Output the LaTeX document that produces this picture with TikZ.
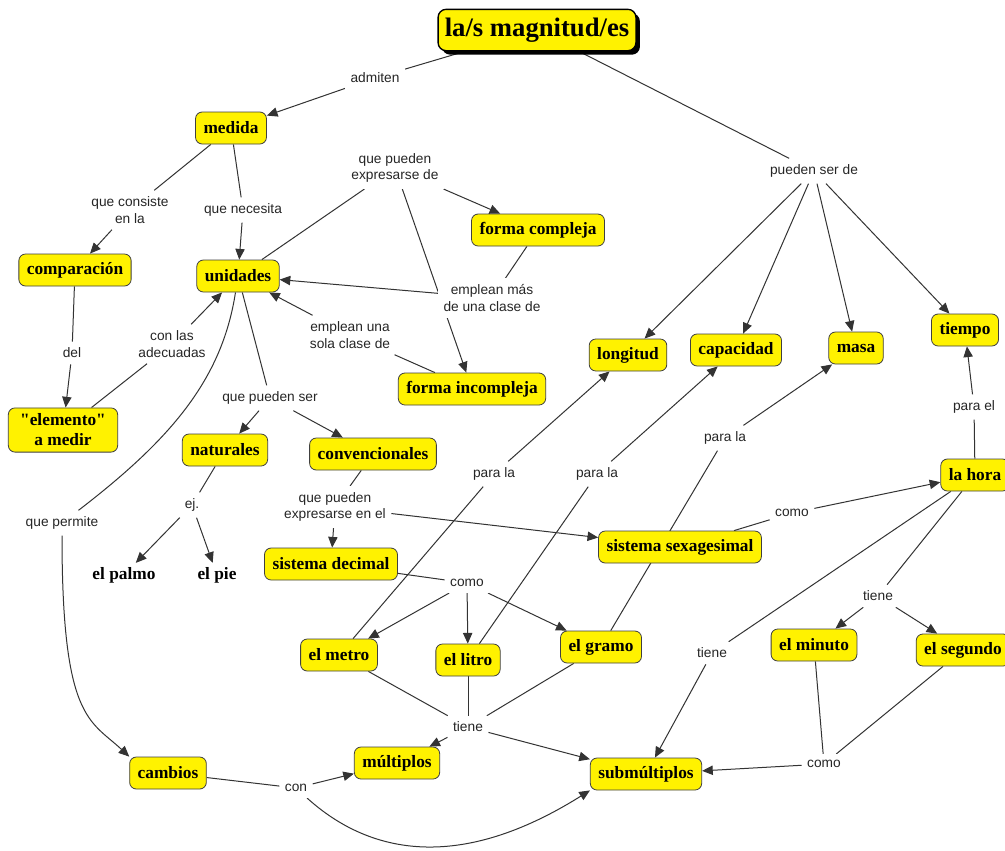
\documentclass[tikz,border=0pt]{standalone}
\usepackage{fontspec}
\setmainfont{Liberation Serif}[Ligatures=TeXOff]
\newfontfamily\lsans{Liberation Sans}
\usetikzlibrary{arrows.meta,shadows}
\pgfdeclarelayer{bg}
\pgfsetlayers{bg,main}
\begin{document}
\begin{tikzpicture}[x=0.75pt,y=-0.75pt,
  concept/.style={draw=black!75, line width=0.6pt, fill=yellow, rounded corners=5pt,
    font=\bfseries\fontsize{13}{15}\selectfont, inner xsep=6pt, inner ysep=3pt,
    minimum height=24pt, align=center},
  lbl/.style={fill=white, inner xsep=4pt, inner ysep=4.5pt,
    font=\lsans\fontsize{10.3}{12.6}\selectfont, text=black!85, align=center},
  plainc/.style={font=\bfseries\fontsize{13}{15}\selectfont, inner sep=3pt},
  conn/.style={draw=black!80, line width=0.75pt},
  arr/.style={conn, -{Triangle[length=8pt,width=7pt]}}]
\useasboundingbox (0,0) rectangle (1005,850);
\begin{pgfonlayer}{bg}
\fill[white] (0,0) rectangle (1005,850);
\end{pgfonlayer}

% concepts
\node[concept, font=\bfseries\fontsize{20}{24}\selectfont, draw=black, line width=1pt,
  minimum height=31pt, inner xsep=5pt, rounded corners=6pt,
  drop shadow={shadow xshift=3pt, shadow yshift=-3pt, opacity=1, fill=black}]
  (title) at (537,30) {la/s magnitud/es};
\node[concept] (medida) at (231,128) {medida};
\node[concept] (comparacion) at (75,270) {comparación};
\node[concept] (unidades) at (238,276) {unidades};
\node[concept, inner ysep=4.5pt, minimum width=82pt] (elemento) at (63,430) {"elemento"\\a medir};
\node[concept] (fcompleja) at (538,230) {forma compleja};
\node[concept] (fincompleja) at (472,389) {forma incompleja};
\node[concept] (naturales) at (225,450) {naturales};
\node[concept] (convencionales) at (373,454) {convencionales};
\node[concept] (sdecimal) at (331,564) {sistema decimal};
\node[plainc] (palmo) at (124,575) {el palmo};
\node[plainc] (pie) at (217,575) {el pie};
\node[concept] (ssexag) at (680,547) {sistema sexagesimal};
\node[concept] (longitud) at (628,355) {longitud};
\node[concept] (capacidad) at (736,350) {capacidad};
\node[concept] (masa) at (856,348) {masa};
\node[concept] (tiempo) at (965,330) {tiempo};
\node[concept] (lahora) at (975,475) {la hora};
\node[concept] (metro) at (339,655) {el metro};
\node[concept] (litro) at (468,660) {el litro};
\node[concept] (gramo) at (601,647) {el gramo};
\node[concept] (multiplos) at (397,763) {múltiplos};
\node[concept] (cambios) at (168,773) {cambios};
\node[concept] (submultiplos) at (646,774) {submúltiplos};
\node[concept] (minuto) at (814,645) {el minuto};
\node[concept] (segundo) at (963,650) {el segundo};

% linking phrases
\node[lbl] (admiten) at (375,78) {admiten};
\node[lbl] (qcons) at (130,210) {que consiste\\en la};
\node[lbl] (qnec) at (243,210) {que necesita};
\node[lbl] (del) at (72,353) {del};
\node[lbl] (conlas) at (172,344) {con las\\adecuadas};
\node[lbl] (qpexde) at (395,168) {que pueden\\expresarse de};
\node[lbl] (empmas) at (492,298) {emplean más\\de una clase de};
\node[lbl] (empuna) at (350,335) {emplean una\\sola clase de};
\node[lbl] (qpser) at (270,398) {que pueden ser};
\node[lbl] (ej) at (192,505) {ej.};
\node[lbl] (qperm) at (62,523) {que permite};
\node[lbl] (qpexen) at (335,507) {que pueden\\expresarse en el};
\node[lbl] (como1) at (467,583) {como};
\node[lbl] (parala1) at (494,474) {para la};
\node[lbl] (parala2) at (597,474) {para la};
\node[lbl] (parala3) at (725,438) {para la};
\node[lbl] (parael) at (974,407) {para el};
\node[lbl] (como2) at (792,513) {como};
\node[lbl] (pserde) at (814,171) {pueden ser de};
\node[lbl] (tiene1) at (878,596) {tiene};
\node[lbl] (tiene2) at (712,653) {tiene};
\node[lbl] (como3) at (824,764) {como};
\node[lbl] (tiene3) at (468,727) {tiene};
\node[lbl] (con) at (296,788) {con};

\begin{pgfonlayer}{bg}
\draw[conn] (title) -- (admiten);
\draw[arr] (admiten) -- (medida);
\draw[conn] (medida) -- (qcons);
\draw[arr] (qcons) -- (comparacion);
\draw[conn] (medida) -- (qnec);
\draw[arr] (qnec) -- (unidades);
\draw[conn] (comparacion) -- (del);
\draw[arr] (del) -- (elemento);
\draw[conn] (elemento) -- (conlas);
\draw[arr] (conlas) -- (unidades);
\draw[conn] (unidades) -- (qpexde);
\draw[arr] (qpexde) -- (fcompleja);
\draw[arr] (qpexde) -- (fincompleja);
\draw[conn] (fcompleja) -- (empmas);
\draw[arr] (empmas) -- (unidades);
\draw[conn] (fincompleja) -- (empuna);
\draw[arr] (empuna) -- (unidades);
\draw[conn] (unidades) -- (qpser);
\draw[arr] (qpser) -- (naturales);
\draw[arr] (qpser) -- (convencionales);
\draw[conn] (naturales) -- (ej);
\draw[arr] (ej) -- (palmo);
\draw[arr] (ej) -- (pie);
\draw[conn] (convencionales) -- (qpexen);
\draw[arr] (qpexen) -- (sdecimal);
\draw[arr] (qpexen) -- (ssexag);
\draw[conn] (sdecimal) -- (como1);
\draw[arr] (como1) -- (metro);
\draw[arr] (como1) -- (litro);
\draw[arr] (como1) -- (gramo);
\draw[conn] (metro) -- (parala1);
\draw[arr] (parala1) -- (longitud);
\draw[conn] (litro) -- (parala2);
\draw[arr] (parala2) -- (capacidad);
\draw[conn] (gramo) -- (parala3);
\draw[arr] (parala3) -- (masa);
\draw[conn] (ssexag) -- (como2);
\draw[arr] (como2) -- (lahora);
\draw[conn] (lahora) -- (parael);
\draw[arr] (parael) -- (tiempo);
\draw[conn] (title) -- (pserde);
\draw[arr] (pserde) -- (longitud);
\draw[arr] (pserde) -- (capacidad);
\draw[arr] (pserde) -- (masa);
\draw[arr] (pserde) -- (tiempo);
\draw[conn] (lahora) -- (tiene2);
\draw[arr] (tiene2) -- (submultiplos);
\draw[conn] (lahora) -- (tiene1);
\draw[arr] (tiene1) -- (minuto);
\draw[arr] (tiene1) -- (segundo);
\draw[conn] (minuto) -- (como3);
\draw[conn] (segundo) -- (como3);
\draw[arr] (como3) -- (submultiplos);
\draw[conn] (metro) -- (tiene3);
\draw[conn] (litro) -- (tiene3);
\draw[conn] (gramo) -- (tiene3);
\draw[arr] (tiene3) -- (multiplos);
\draw[arr] (tiene3) -- (submultiplos);
\draw[conn] (unidades) .. controls (222,380) and (170,440) .. (qperm);
\draw[arr] (qperm) .. controls (62,720) and (90,720) .. (cambios.north west);
\draw[conn] (cambios) -- (con);
\draw[arr] (con) -- (multiplos);
\draw[arr] (con) .. controls (370,855) and (460,872) .. (submultiplos.south west);
\end{pgfonlayer}
\end{tikzpicture}
\end{document}
